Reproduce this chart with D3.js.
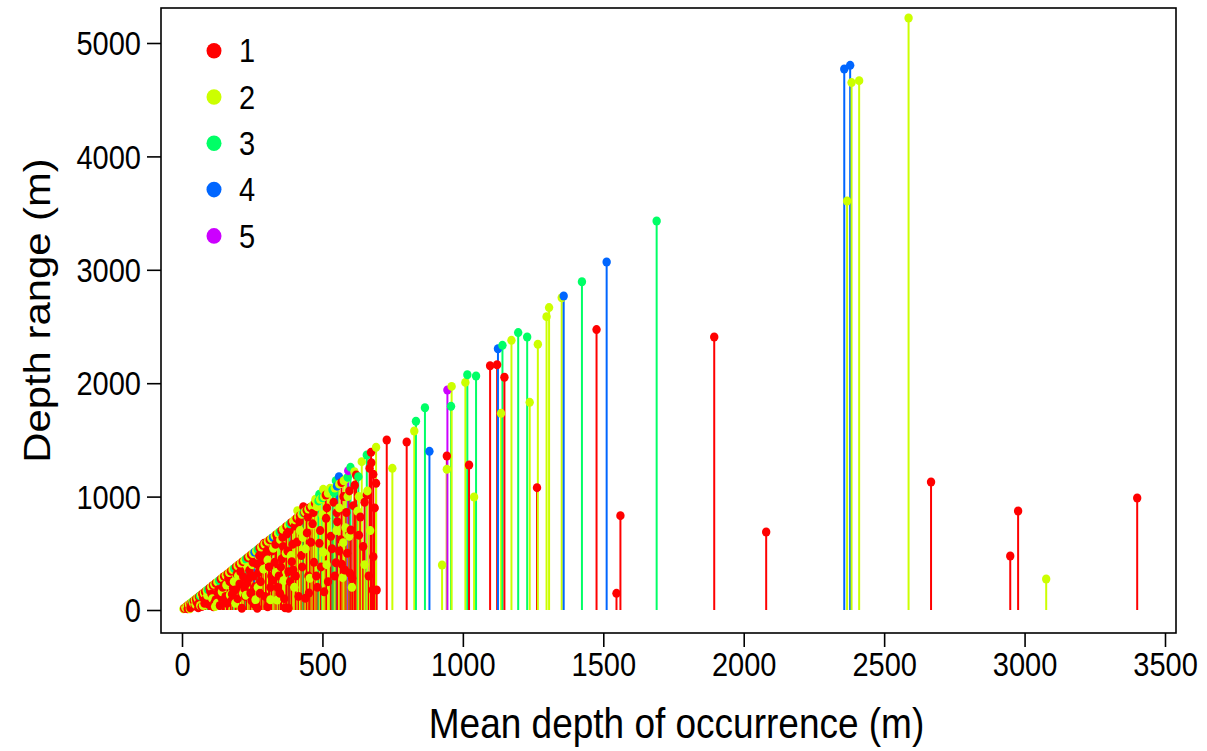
<!DOCTYPE html>
<html>
<head>
<meta charset="utf-8">
<script src="https://cdn.jsdelivr.net/npm/d3@7"></script>
<style>
  html, body { margin: 0; padding: 0; background: #fff; }
  svg { display: block; }
  text { font-family: "Liberation Sans", Arial, sans-serif; fill: #000; }
</style>
</head>
<body>
<svg id="chart" width="1207" height="751"></svg>
<script>
// ---- Data (mean depth of occurrence, depth range), by group ----
const groupLabels = ["1", "2", "3", "4", "5"];
const groupColors = ["#FF0000", "#CCFF00", "#00FF66", "#0066FF", "#CC00FF"];

const g1Mean = [8,15,22,30,42,50,60,72,82,98,110,120,138,150,162,174,192,204,216,234,246,276,288,300,312,336,354,372,390,408,420,444,456,474,512,568,
  30,45,60,70,85,95,105,112,120,130,140,150,160,170,178,189,195,205,213,218,225,230,240,248,255,260,266,268,272,278,280,285,292,299,305,310,315,320,325,330,339,345,349,355,360,367,373,379,379,385,391,396,402,410,415,425,432,436,439,445,450,459,465,470,482,489,495,513,520,530,540,548,551,553,560,569,575,580,585,598,601,610,615,620,635,645,658,665,673,674,679,681,681,691,693,
  20,35,52,58,75,80,100,115,128,135,145,155,165,175,182,198,208,222,238,244,252,258,275,283,296,302,318,333,340,352,358,364,376,383,394,405,418,428,448,452,468,478,492,506,516,534,544,565,588,596,606,630,650,668,686,
  729,800,943,1022,1097,1122,1148,1264,1476,1547,1561,1895,2080,2667,2949,2977,3401];
const g1Range = [14,28,42,56,80,96,116,140,160,192,216,236,272,296,318,342,380,402,426,462,486,546,570,594,618,664,700,736,772,808,832,880,904,940,1014,1124,
  20,35,60,30,100,50,140,29,90,180,110,220,60,250,140,176,317,230,15,294,120,235,350,80,300,206,406,15,330,147,250,440,588,470,29,380,200,520,265,420,632,300,147,450,560,20,670,338,15,250,426,353,741,600,120,480,911,858,103,680,300,597,760,420,200,588,380,808,250,650,950,417,858,779,520,403,1000,353,860,324,705,920,1100,1190,820,560,1014,300,1390,1299,176,1196,470,1117,176,
  10,50,70,20,110,60,170,60,150,40,200,120,280,80,200,100,340,190,280,150,420,50,480,360,120,520,300,580,200,380,640,100,520,700,580,300,780,380,820,150,860,300,700,160,900,540,300,620,500,1050,280,660,950,1250,900,
  1499,1481,1358,1279,2154,2163,2052,1079,2473,147,832,2407,688,1129,476,873,988];

const g2Mean = [5,12,18,25,34,46,55,68,78,88,104,115,126,144,156,168,180,198,210,222,240,252,264,282,294,306,318,330,342,360,366,378,396,402,414,426,438,450,462,468,480,492,506,520,528,544,560,576,584,
  40,65,90,125,171,185,218,235,262,290,325,339,350,370,400,411,420,440,462,475,480,503,503,527,550,572,574,582,590,605,614,625,640,650,660,691,749,
  15,28,48,75,108,118,142,158,190,200,228,250,270,305,315,335,362,388,430,455,500,515,560,595,630,670,
  827,926,943,960,1009,1040,1136,1173,1238,1267,1298,1307,1352,2368,2384,2411,2587,3077];
const g2Range = [10,22,34,48,66,90,106,132,150,172,204,226,248,284,306,330,356,390,414,438,474,498,520,556,582,606,630,654,678,712,724,748,784,796,820,844,866,890,914,928,950,976,1000,1030,1044,1076,1110,1140,1156,
  60,40,130,60,132,250,147,380,90,360,544,88,620,500,200,876,700,540,750,976,911,509,1064,1073,700,285,594,726,1000,200,1220,870,1308,400,1050,1435,1249,
  20,10,50,40,100,30,160,220,60,300,130,400,200,440,90,330,260,480,640,280,840,400,900,650,1000,700,
  1578,397,1241,1972,2007,996,1734,2378,1831,2343,2587,2667,2754,3607,4651,4668,5220,273];

const g3Mean = [38,64,92,132,186,228,270,348,384,432,486,489,500,536,541,548,590,600,628,658,
  833,865,958,1016,1047,1141,1197,1229,1424,1690];
const g3Range = [72,124,180,258,366,450,534,688,760,856,962,1020,990,1060,1035,1140,1170,1258,1176,1367,
  1664,1784,1796,2075,2063,2334,2446,2407,2895,3430];

const g4Mean = [258,324,552,559,881,1125,1359,1512,2358,2379];
const g4Range = [510,640,1092,1176,1399,2304,2769,3069,4771,4803];

const g5Mean = [592,945];
const g5Range = [1229,1940];

const xTicks = [0, 500, 1000, 1500, 2000, 2500, 3000, 3500];
const yTicks = [0, 1000, 2000, 3000, 4000, 5000];
const xTitle = "Mean depth of occurrence (m)";
const yTitle = "Depth range (m)";

// ---- Build records ----
const groups = [[g1Mean, g1Range], [g2Mean, g2Range], [g3Mean, g3Range], [g4Mean, g4Range], [g5Mean, g5Range]];
let records = [];
groups.forEach(([xs, ys], gi) => {
  xs.forEach((x, i) => records.push({ x: x, y: ys[i], g: gi }));
});
records.sort((a, b) => (a.x - b.x) || (a.g - b.g));

// ---- Layout ----
const svg = d3.select("#chart");
const box = { left: 161, right: 1176, top: 8, bottom: 633 };
const x = d3.scaleLinear().domain([0, 3500]).range([182, 1165]);
const y = d3.scaleLinear().domain([0, 5000]).range([610, 43]);
const stretch = 1.13;
const tickFont = 29;

// Lines (type "h")
svg.append("g").selectAll("line").data(records).join("line")
  .attr("x1", d => x(d.x)).attr("x2", d => x(d.x))
  .attr("y1", y(0)).attr("y2", d => y(d.y))
  .attr("stroke", d => groupColors[d.g]).attr("stroke-width", 2);

// Points
svg.append("g").selectAll("ellipse").data(records).join("ellipse")
  .attr("cx", d => x(d.x)).attr("cy", d => y(d.y))
  .attr("rx", 4.2).attr("ry", 4.5)
  .attr("fill", d => groupColors[d.g]);

// Box
svg.append("rect")
  .attr("x", box.left).attr("y", box.top)
  .attr("width", box.right - box.left).attr("height", box.bottom - box.top)
  .attr("fill", "none").attr("stroke", "#000").attr("stroke-width", 1.6);

// X axis
const xAxis = svg.append("g").attr("transform", `translate(0,${box.bottom})`)
  .call(d3.axisBottom(x).tickValues(xTicks).tickSize(14).tickFormat(d3.format("d")));
xAxis.select(".domain").remove();
xAxis.selectAll(".tick line").attr("stroke", "#000").attr("stroke-width", 1.6);
xAxis.selectAll(".tick text")
  .attr("y", null).attr("dy", null)
  .attr("transform", `translate(0,42.5) scale(1,${stretch})`)
  .attr("font-size", tickFont).attr("text-anchor", "middle")
  .style("font-family", "'Liberation Sans', Arial, sans-serif").attr("fill", "#000");

// Y axis
const yAxis = svg.append("g").attr("transform", `translate(${box.left},0)`)
  .call(d3.axisLeft(y).tickValues(yTicks).tickSize(14).tickFormat(d3.format("d")));
yAxis.select(".domain").remove();
yAxis.selectAll(".tick line").attr("stroke", "#000").attr("stroke-width", 1.6);
yAxis.selectAll(".tick text")
  .attr("x", null).attr("dy", null)
  .attr("transform", `translate(-20,11.7) scale(1,${stretch})`)
  .attr("font-size", tickFont).attr("text-anchor", "end")
  .style("font-family", "'Liberation Sans', Arial, sans-serif").attr("fill", "#000");

// Axis titles
svg.append("text")
  .attr("transform", `translate(${(box.left + box.right) / 2 + 8},738) scale(1,${stretch})`)
  .attr("text-anchor", "middle").attr("font-size", 37).text(xTitle);
svg.append("text")
  .attr("transform", `translate(50,${(box.top + box.bottom) / 2 - 10}) scale(1,${stretch}) rotate(-90)`)
  .attr("text-anchor", "middle").attr("font-size", 37).text(yTitle);

// Legend
const legend = svg.append("g");
groupLabels.forEach((lab, i) => {
  const cy = 50.7 + 46.3 * i;
  legend.append("ellipse").attr("cx", 214).attr("cy", cy).attr("rx", 7.5).attr("ry", 7.8)
    .attr("fill", groupColors[i]);
  legend.append("text")
    .attr("transform", `translate(239,${cy + 11.7}) scale(1,${stretch})`)
    .attr("font-size", tickFont).text(lab);
});
</script>
</body>
</html>
